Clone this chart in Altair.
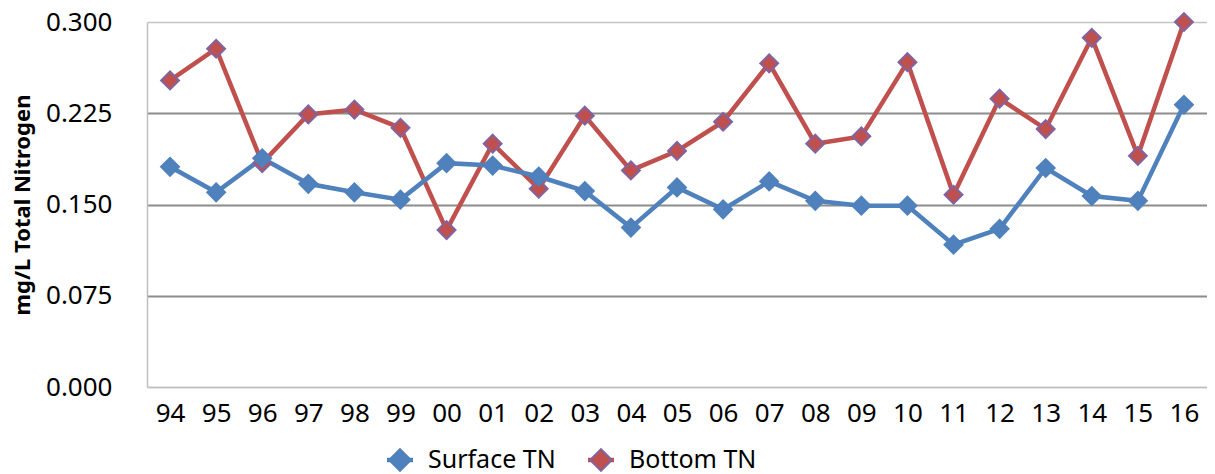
import altair as alt
import pandas as pd

# ---- data ----
years = ["94", "95", "96", "97", "98", "99", "00", "01", "02", "03", "04", "05",
         "06", "07", "08", "09", "10", "11", "12", "13", "14", "15", "16"]
surface_tn = [0.181, 0.160, 0.188, 0.167, 0.160, 0.154, 0.184, 0.182, 0.173, 0.161, 0.131, 0.164,
              0.146, 0.169, 0.153, 0.149, 0.149, 0.117, 0.130, 0.180, 0.157, 0.153, 0.232]
bottom_tn = [0.252, 0.278, 0.184, 0.224, 0.228, 0.213, 0.129, 0.200, 0.163, 0.223, 0.178, 0.194,
             0.218, 0.266, 0.200, 0.206, 0.267, 0.158, 0.237, 0.212, 0.287, 0.190, 0.300]
series_names = ["Surface TN", "Bottom TN"]
y_ticks = [0.0, 0.075, 0.15, 0.225, 0.3]

line_colors = ["#4F81BD", "#C0504D"]
marker_strokes = ["#4F81BD", "#8064A2"]

rows = []
for yr, b in zip(years, bottom_tn):
    rows.append({"year": yr, "series": series_names[1], "value": b, "z": 0})
for yr, s in zip(years, surface_tn):
    rows.append({"year": yr, "series": series_names[0], "value": s, "z": 1})
df = pd.DataFrame(rows)
legend_df = pd.DataFrame({"series": series_names})

FONT = "Noto Sans"
W, H = 1060, 365

x_enc = alt.X(
    "year:N",
    sort=years,
    scale=alt.Scale(type="point", padding=0.5, domain=years),
    axis=alt.Axis(
        title=None, labelAngle=0, labelFontSize=26, labelFont=FONT, labelColor="black",
        labelPadding=13, ticks=False, tickSize=0, grid=False,
        domainColor="#BFBFBF", domainWidth=1.5,
    ),
)
y_enc = alt.Y(
    "value:Q",
    scale=alt.Scale(domain=[0, 0.3], nice=False, zero=True),
    axis=alt.Axis(
        values=y_ticks, format=".3f", title="mg/L Total Nitrogen",
        titleFont=FONT, titleFontSize=22, titleFontWeight="bold", titleColor="black",
        titleX=-125, titleBaseline="middle", titleAngle=270,
        labelFontSize=26, labelFont=FONT, labelColor="black", labelPadding=35,
        ticks=False, tickSize=0,
        domainColor="#BFBFBF", domainWidth=1.5,
        grid=True,
        gridColor={"condition": {"test": "datum.value >= 0.29 || datum.value <= 0.001",
                                 "value": "#C4C4C4"}, "value": "#8C8C8C"},
        gridWidth={"condition": {"test": "datum.value >= 0.29 || datum.value <= 0.001",
                                 "value": 1.5}, "value": 2},
    ),
)

color_scale = alt.Scale(domain=series_names, range=line_colors)
stroke_scale = alt.Scale(domain=series_names, range=marker_strokes)

base = alt.Chart(df).encode(x=x_enc, y=y_enc)

lines = base.mark_line(strokeWidth=4.5).encode(
    color=alt.Color("series:N", scale=color_scale, legend=None),
    detail="series:N",
)

points = base.mark_point(shape="diamond", filled=True, size=320, strokeWidth=2, opacity=1).encode(
    fill=alt.Fill("series:N", scale=color_scale, legend=None),
    stroke=alt.Stroke("series:N", scale=stroke_scale, legend=None),
    order=alt.Order("z:Q"),
)

# ---- legend drawn below the plot (layout positions in pixels) ----
legend_layers = []
legend_sym_x = [253, 454]      # symbol centres, relative to plot origin
legend_y = 438
for i, name in enumerate(series_names):
    src = alt.Chart(legend_df).transform_filter(alt.datum.series == name)
    seg = src.mark_rule(strokeWidth=4.5).encode(
        x=alt.value(legend_sym_x[i] - 13), x2=alt.value(legend_sym_x[i] + 13),
        y=alt.value(legend_y),
        color=alt.Color("series:N", scale=color_scale, legend=None),
    )
    sym = src.mark_point(shape="diamond", filled=True, size=470, strokeWidth=2, opacity=1).encode(
        x=alt.value(legend_sym_x[i]), y=alt.value(legend_y),
        fill=alt.Fill("series:N", scale=color_scale, legend=None),
        stroke=alt.Stroke("series:N", scale=stroke_scale, legend=None),
    )
    txt = src.mark_text(align="left", baseline="middle", font=FONT, fontSize=25,
                        color="black").encode(
        x=alt.value(legend_sym_x[i] + 28), y=alt.value(legend_y),
        text="series:N",
    )
    legend_layers += [seg, sym, txt]

chart = (
    alt.layer(lines, points, *legend_layers)
    .properties(
        width=W, height=H,
        padding={"left": 139, "top": 14, "right": 0, "bottom": 86},
        autosize=alt.AutoSizeParams(type="none"),
    )
    .configure_view(stroke=None)
)

chart.save("out.html", embed_options={"renderer": "svg", "actions": False})
